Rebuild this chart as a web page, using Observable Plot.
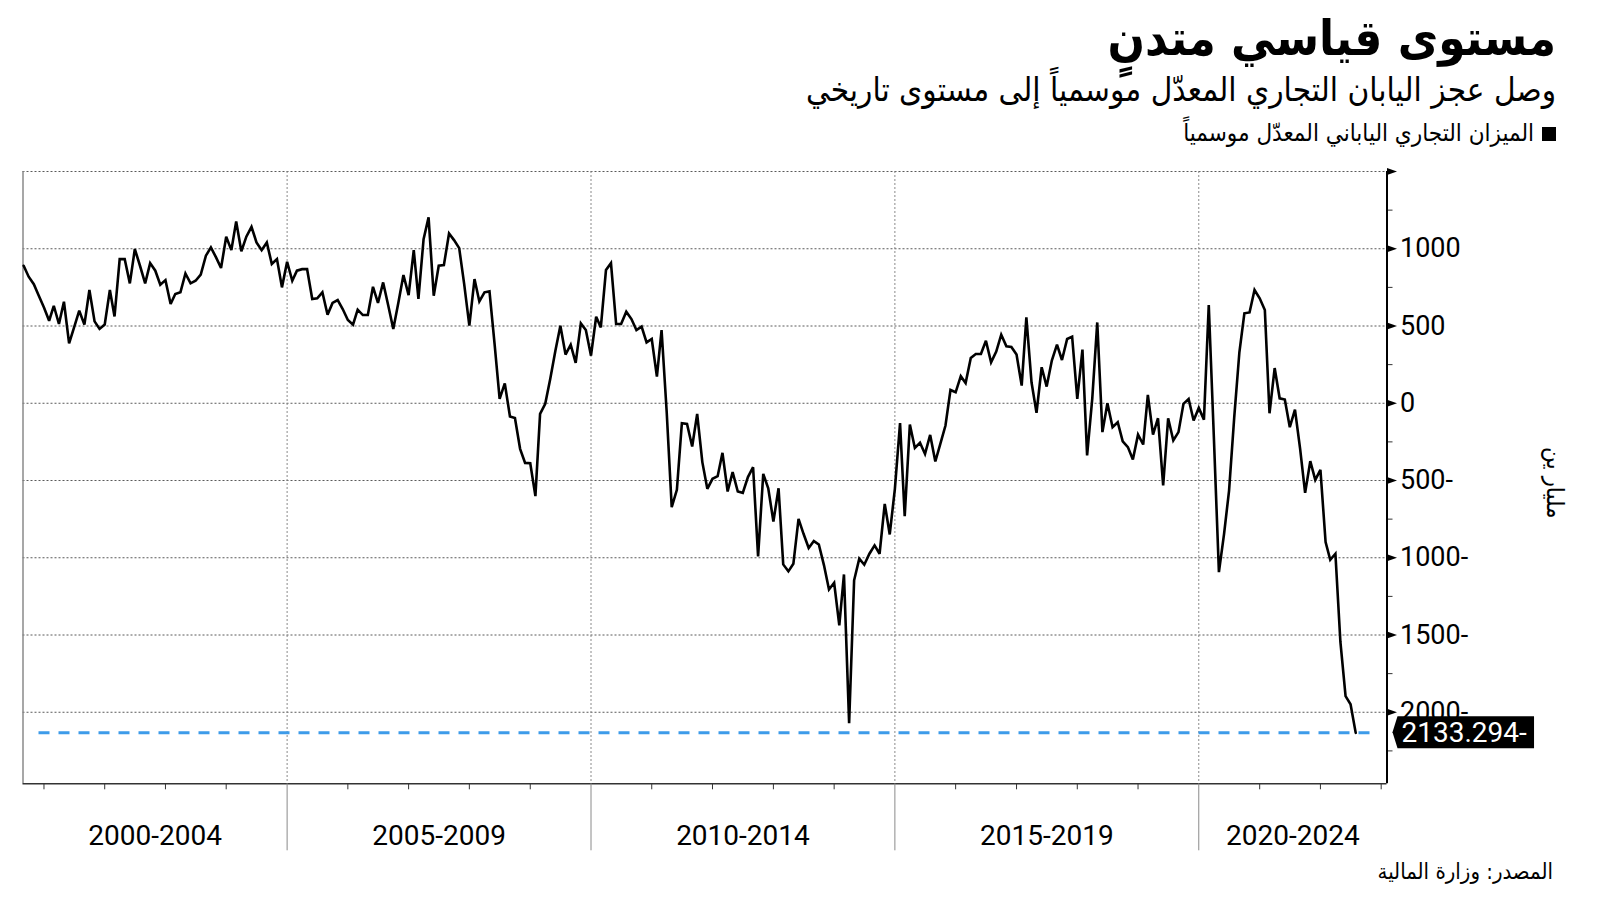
<!DOCTYPE html>
<html><head><meta charset="utf-8">
<script src="https://cdn.jsdelivr.net/npm/d3@7"></script>
<script src="https://cdn.jsdelivr.net/npm/@observablehq/plot@0.6"></script>
<style>
html,body{margin:0;padding:0;background:#fff;}
#page{position:relative;width:1600px;height:901px;overflow:hidden;background:#fff;}
.t{position:absolute;right:44px;direction:rtl;white-space:nowrap;line-height:1;color:#000;font-family:"DejaVu Sans Condensed","DejaVu Sans",sans-serif;}
#title{top:14px;font-size:49px;font-weight:bold;}
#subtitle{top:73px;font-size:33px;}
#legend{top:121px;font-size:24px;}
#legend .sw{display:inline-block;width:14px;height:14px;background:#000;margin-left:8px;vertical-align:0px;}
#source{top:861px;font-size:22px;right:47px;}
#chart{position:absolute;left:0;top:150px;}
</style></head><body>
<div id="page">
<div id="title" class="t">مستوى قياسي متدنٍ</div>
<div id="subtitle" class="t">وصل عجز اليابان التجاري المعدّل موسمياً إلى مستوى تاريخي</div>
<div id="legend" class="t"><span class="sw"></span>الميزان التجاري الياباني المعدّل موسمياً</div>
<div id="chart"></div>
<div id="source" class="t">المصدر: وزارة المالية</div>
</div>
<script>
// Monthly seasonally adjusted trade balance (billion yen), Sep 2000 .. Aug 2022
const firstMonth = "2000-09";
const values = [
  890, 819, 771, 696,                                              // 2000 (Sep-Dec)
  620, 534, 631, 513, 657, 388, 491, 599, 509, 733, 530, 481,      // 2001
  509, 733, 562, 933, 933, 776, 998, 890, 776, 907, 858, 767,      // 2002
  797, 642, 707, 718, 840, 776, 793, 832, 955, 1009, 944, 875,     // 2003
  1078, 991, 1177, 983, 1078, 1142, 1041, 991, 1041, 901, 933, 750,// 2004
  916, 793, 858, 868, 868, 675, 679, 718, 573, 649, 668, 610,      // 2005
  539, 509, 606, 571, 571, 754, 649, 782, 631, 481, 653, 830,      // 2006
  700, 991, 675, 1062, 1203, 696, 890, 894, 1099, 1056, 1004, 771, // 2007
  502, 804, 659, 718, 724, 380, 28, 129, -86, -95, -295, -386,     // 2008
  -388, -601, -69, -4, 157, 340, 502, 315, 379, 261, 517, 474,     // 2009
  308, 560, 491, 862, 907, 513, 513, 593, 545, 474, 496, 394,      // 2010
  416, 172, 474, -60, -672, -560, -129, -134, -280, -69, -381, -554, // 2011
  -489, -472, -321, -571, -446, -571, -580, -478, -414, -991, -457, -550, // 2012
  -765, -550, -1043, -1088, -1039, -748, -845, -937, -892, -914, -1049, -1205, // 2013
  -1162, -1437, -1108, -2070, -1146, -1006, -1045, -974, -920, -974, -651, -849, // 2014
  -554, -129, -731, -138, -289, -256, -328, -205, -377, -263, -144, 86, // 2015
  71, 175, 131, 293, 319, 319, 405, 265, 334, 444, 369, 364,       // 2016
  315, 114, 556, 136, -62, 233, 108, 276, 379, 280, 416, 431,      // 2017
  28, 347, -338, 30, 523, -187, 0, -155, -123, -246, -284, -364,   // 2018
  -203, -267, 54, -203, -97, -532, -97, -241, -187, -4, 28, -112,  // 2019
  -30, -106, 636, -230, -1093, -845, -565, -91, 330, 582, 588, 733,// 2020
  679, 603, -65, 228, 32, 24, -155, -41, -295, -580, -375, -496,   // 2021
  -431, -899, -1013, -974, -1545, -1896, -1948, -2133.294          // 2022 (Jan-Aug)
];
const periodLabels = ["2000-2004", "2005-2009", "2010-2014", "2015-2019", "2020-2024"];
const periodStarts = ["2000", "2005", "2010", "2015", "2020"];
const periodEnd = "2025";
const yLabelTicks = [1000, 500, 0, -500, -1000, -1500, -2000];
const yMajorTicks = [1500, 1000, 500, 0, -500, -1000, -1500, -2000];
const yMinorTicks = [1250, 750, 250, -250, -750, -1250, -1750, -2250];
const xDomainText = ["2000-08-28", "2023-02-05"];
const yDomain = [-2463, 1500];
const yTitle = "مليار ين";

const parse = d3.utcParse("%Y-%m");
const parseD = d3.utcParse("%Y-%m-%d");
const parseY = d3.utcParse("%Y");
const start = parse(firstMonth);
const data = values.map((v, i) => ({date: d3.utcMonth.offset(start, i), value: v}));
const last = data[data.length - 1];
const xDomain = xDomainText.map(parseD);
const bounds = periodStarts.map(parseY).concat([parseY(periodEnd)]);
const periods = periodLabels.map((label, i) => {
  const a = Math.max(+bounds[i], +xDomain[0]);
  const b = Math.min(+bounds[i + 1], +xDomain[1]);
  return {label, mid: new Date((a + b) / 2)};
});
const separators = bounds.slice(1, -1);
const yearTicks = d3.utcYear.range(xDomain[0], xDomain[1]).filter(d => d.getUTCFullYear() % 5 !== 0);
const fmtNum = v => v < 0 ? `${Math.abs(v)}-` : `${v}`;
const badgeText = `${Math.abs(last.value).toFixed(3)}-`;
const arrowRight = {draw(ctx) { ctx.moveTo(0, -3.6); ctx.lineTo(10, 0); ctx.lineTo(0, 3.6); ctx.closePath(); }};
const numFont = "Roboto";

const plot = Plot.plot({
  width: 1600, height: 720,
  marginTop: 21, marginBottom: 86.7, marginLeft: 22.5, marginRight: 213.5,
  x: {type: "utc", domain: xDomain},
  y: {domain: yDomain},
  style: {fontFamily: numFont, fontSize: "27px", color: "#000", background: "transparent", overflow: "visible"},
  marks: [
    Plot.ruleY(yMajorTicks, {stroke: "#5a5a5a", strokeDasharray: "2,2", strokeWidth: 1}),
    Plot.ruleX(separators, {stroke: "#8a8a8a", strokeDasharray: "2,2", strokeWidth: 1}),
    Plot.ruleX([xDomain[0]], {stroke: "#8a8a8a", strokeWidth: 1.5}),
    Plot.ruleY([yDomain[0]], {stroke: "#333", strokeWidth: 1.5}),
    Plot.axisX(yearTicks, {tickSize: 6, tickFormat: () => "", stroke: "#333", label: null}),
    Plot.axisX(separators, {tickSize: 67, tickFormat: () => "", stroke: "#8a8a8a", label: null}),
    Plot.text(periods, {x: "mid", text: "label", frameAnchor: "bottom", dy: 61, fontSize: 28, fill: "#000"}),
    Plot.axisY(yMinorTicks, {anchor: "right", tickSize: 5, tickFormat: () => "", stroke: "#333", label: null}),
    Plot.axisY(yLabelTicks, {anchor: "right", tickSize: 0, tickPadding: 13, tickFormat: fmtNum, fontSize: 27, label: null}),
    Plot.ruleX([xDomain[1]], {stroke: "#000", strokeWidth: 2}),
    Plot.dot(yMajorTicks, {x: () => xDomain[1], y: d => d, symbol: arrowRight, fill: "#000", stroke: null, r: 5}),
    Plot.line(data, {x: "date", y: "value", stroke: "#000", strokeWidth: 2.6, strokeLinejoin: "miter", strokeMiterlimit: 3}),
    Plot.ruleY([last.value], {stroke: "#3d9be9", strokeWidth: 3, strokeDasharray: "11,9", insetLeft: 16, insetRight: 14}),
    Plot.text([last], {x: () => xDomain[1], y: "value", text: () => badgeText, textAnchor: "start", dx: 14.5, fill: "#fff", fontSize: 28}),
    Plot.text([yTitle], {frameAnchor: "right", dx: 168, dy: 41, rotate: 90, text: d => d, fontSize: 24, fontFamily: "DejaVu Sans Condensed", fill: "#000"})
  ]
});
document.getElementById("chart").appendChild(plot);

// black badge behind the last-value label
const badge = Array.from(plot.querySelectorAll("text")).find(t => t.textContent === badgeText);
if (badge) {
  const bb = badge.getBBox();
  const top = bb.y + 0.5, bot = bb.y + bb.height - 0.5, cy = (top + bot) / 2;
  const x0 = bb.x - 4, x1 = bb.x + bb.width + 7;
  const p = document.createElementNS("http://www.w3.org/2000/svg", "path");
  p.setAttribute("d", `M${x0 - 5},${cy}L${x0},${top}L${x1},${top}L${x1},${bot}L${x0},${bot}Z`);
  p.setAttribute("fill", "#000");
  const tr = badge.getAttribute("transform");
  if (tr) p.setAttribute("transform", tr);
  badge.parentNode.insertBefore(p, badge);
}
</script>
</body></html>
